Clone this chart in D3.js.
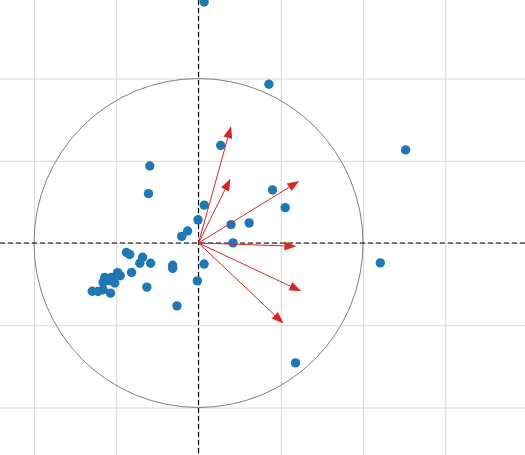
<!DOCTYPE html>
<html>
<head>
<meta charset="utf-8">
<script src="https://cdn.jsdelivr.net/npm/d3@7"></script>
<style>
  body { margin: 0; background: #fff; }
  .grid line { stroke: #d8d8d8; stroke-width: 1; }
  .grid .domain { display: none; }
</style>
</head>
<body>
<svg width="525" height="455" viewBox="0 0 525 455"></svg>
<script>
// PCA scores (PC1, PC2)
var scoreX = [0.034, 0.428, 1.259, 0.135, -0.296, -0.304, 0.450, 0.527, 0.035, -0.003,
  0.198, 0.308, -0.066, -0.102, 0.210, 1.105, 0.034, -0.007, -0.131, 0.590,
  -0.438, -0.418, -0.340, -0.357, -0.291, -0.157, -0.157, -0.407, -0.492, -0.476,
  -0.570, -0.529, -0.580, -0.509, -0.543, -0.314, -0.646, -0.611, -0.580, -0.535];
var scoreY = [1.465, 0.965, 0.566, 0.593, 0.468, 0.300, 0.323, 0.215, 0.230, 0.141,
  0.112, 0.122, 0.073, 0.040, 0.001, -0.121, -0.128, -0.230, -0.382, -0.729,
  -0.058, -0.070, -0.087, -0.123, -0.123, -0.135, -0.154, -0.179, -0.180, -0.199,
  -0.209, -0.209, -0.240, -0.243, -0.229, -0.268, -0.293, -0.295, -0.284, -0.305];

// loadings (arrow tips)
var loadX = [0.198, 0.194, 0.613, 0.595, 0.625, 0.517];
var loadY = [0.710, 0.391, 0.377, -0.020, -0.294, -0.489];

var xTicks = [-1, -0.5, 0, 0.5, 1, 1.5];
var yTicks = [-1, -0.5, 0, 0.5, 1];

var svg = d3.select("svg");
var width = 525, height = 455;

// one unit = 164.5 px, origin near (198.5, 243)
var x = d3.scaleLinear().domain([-198.5 / 164.5, (width - 198.5) / 164.5]).range([0, width]);
var y = d3.scaleLinear().domain([-(height - 243) / 164.5, 243 / 164.5]).range([height, 0]);

// grid
svg.append("g").attr("class", "grid")
  .attr("transform", "translate(0," + height + ")")
  .call(d3.axisBottom(x).tickValues(xTicks).tickSize(-height).tickFormat(""));
svg.append("g").attr("class", "grid")
  .call(d3.axisLeft(y).tickValues(yTicks).tickSize(-width).tickFormat(""))
  .selectAll(".tick line").attr("x2", width);

// unit circle
svg.append("circle")
  .attr("cx", x(0)).attr("cy", y(0))
  .attr("r", x(1) - x(0))
  .attr("fill", "none").attr("stroke", "#808080").attr("stroke-width", 1);

// zero lines
svg.append("line")
  .attr("x1", 0).attr("x2", width).attr("y1", y(0)).attr("y2", y(0))
  .attr("stroke", "#000").attr("stroke-width", 1.1).attr("stroke-dasharray", "5,3");
svg.append("line")
  .attr("x1", x(0)).attr("x2", x(0)).attr("y1", 0).attr("y2", height)
  .attr("stroke", "#000").attr("stroke-width", 1.1).attr("stroke-dasharray", "5,3");

// points
var scores = scoreX.map(function(d, i) { return [d, scoreY[i]]; });
svg.append("g").selectAll("circle")
  .data(scores).enter().append("circle")
  .attr("cx", function(d) { return x(d[0]); })
  .attr("cy", function(d) { return y(d[1]); })
  .attr("r", 4.7)
  .attr("fill", "#1f77b4");

// arrows
var loads = loadX.map(function(d, i) { return [d, loadY[i]]; });
var headLen = 12, headHalf = 4.5;
var ag = svg.append("g");
loads.forEach(function(d) {
  var x0 = x(0), y0 = y(0), x1 = x(d[0]), y1 = y(d[1]);
  var dx = x1 - x0, dy = y1 - y0, len = Math.sqrt(dx * dx + dy * dy);
  var ux = dx / len, uy = dy / len;
  var bx = x1 - ux * headLen, by = y1 - uy * headLen;
  ag.append("line")
    .attr("x1", x0).attr("y1", y0).attr("x2", bx).attr("y2", by)
    .attr("stroke", "#d62728").attr("stroke-width", 1);
  ag.append("path")
    .attr("d", "M" + x1 + "," + y1 +
      "L" + (bx - uy * headHalf) + "," + (by + ux * headHalf) +
      "L" + (bx + uy * headHalf) + "," + (by - ux * headHalf) + "Z")
    .attr("fill", "#d62728");
});
</script>
</body>
</html>
